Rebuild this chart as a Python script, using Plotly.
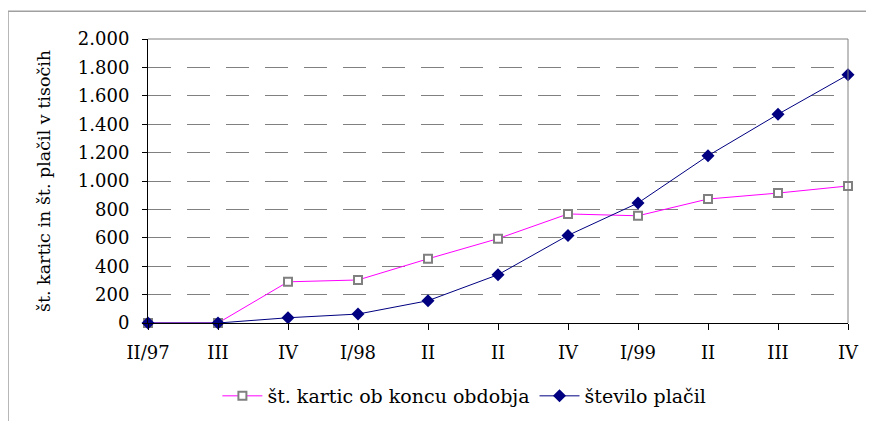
import plotly.graph_objects as go

# quarters (labels repeat, so x is positional)
quarter_labels = ['II/97', 'III', 'IV', 'I/98', 'II', 'II', 'IV', 'I/99', 'II', 'III', 'IV']
st_kartic = [0, 0, 290, 303, 452, 594, 768, 755, 873, 915, 965]
st_placil = [0, 0, 37, 63, 157, 340, 617, 845, 1178, 1470, 1748]

x_pos = list(range(len(quarter_labels)))
serif = 'DejaVu Serif'

fig = go.Figure()

fig.add_trace(go.Scatter(
    x=x_pos, y=st_kartic, name='št. kartic ob koncu obdobja',
    mode='lines+markers', cliponaxis=False,
    line=dict(color='#ff00ff', width=1),
    marker=dict(symbol='square', size=8, color='white',
                line=dict(color='#808080', width=2))
))
fig.add_trace(go.Scatter(
    x=x_pos, y=st_placil, name='število plačil',
    mode='lines+markers', cliponaxis=False,
    line=dict(color='#000080', width=1),
    marker=dict(symbol='diamond', size=10, color='#000080')
))

# plot area border (grey top / right) and the outer chart frame
fig.add_shape(type='line', xref='paper', yref='paper', x0=0, x1=1, y0=1, y1=1,
              line=dict(color='#808080', width=1))
fig.add_shape(type='line', xref='paper', yref='paper', x0=1, x1=1, y0=0, y1=1,
              line=dict(color='#808080', width=1))
fig.add_shape(type='rect', xref='paper', yref='paper', x0=-0.2, x1=1.06, y0=-0.4, y1=1.098,
              line=dict(color='#a0a0a0', width=1.5), layer='below')

# page has an 8px body margin, so margins are 8px smaller than the target positions
fig.update_layout(
    width=874, height=421,
    margin=dict(l=140, r=34, t=31, b=106, autoexpand=False),
    paper_bgcolor='white', plot_bgcolor='white',
    separators=',.',
    font=dict(family=serif, size=18, color='black'),
    showlegend=True,
    legend=dict(orientation='h', x=0.452, xanchor='center', y=-0.257, yanchor='middle',
                font=dict(family=serif, size=19), itemwidth=40, tracegroupgap=0),
)

fig.update_xaxes(
    range=[0, 10], tickvals=x_pos, ticktext=quarter_labels,
    showgrid=False, zeroline=False, automargin=False,
    showline=True, linecolor='black', linewidth=1,
    ticks='outside', ticklen=6, tickcolor='black',
    ticklabelstandoff=7, tickfont=dict(family=serif, size=18),
)
fig.update_yaxes(
    range=[0, 2000], dtick=200, tickformat=',d',
    showgrid=True, gridcolor='#808080', gridwidth=1, griddash='23px,16px',
    zeroline=False, automargin=False,
    showline=True, linecolor='black', linewidth=1,
    ticks='outside', ticklen=5, tickcolor='black',
    ticklabelstandoff=9, tickfont=dict(family=serif, size=18),
    title=dict(text='št. kartic in št. plačil v tisočih', standoff=22,
               font=dict(family=serif, size=17.5)),
)

fig.write_html('out.html')
